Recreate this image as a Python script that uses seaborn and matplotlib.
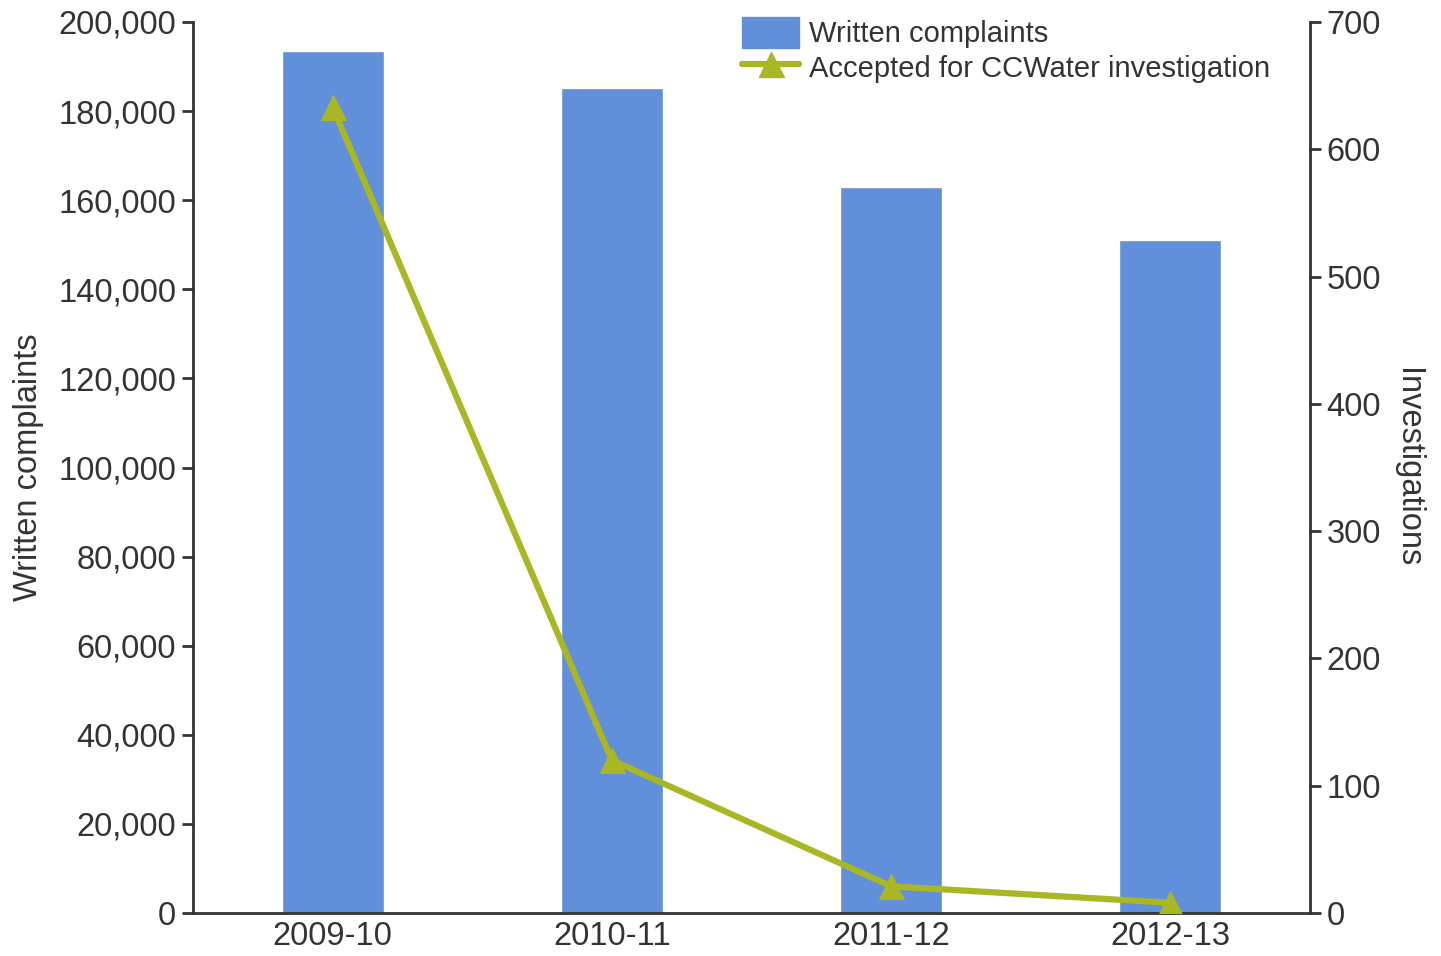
import matplotlib
matplotlib.use("Agg")
import matplotlib.pyplot as plt
import seaborn as sns
import pandas as pd
from matplotlib.ticker import FuncFormatter, MultipleLocator
from matplotlib.patches import Patch
from matplotlib.lines import Line2D

years = ["2009-10", "2010-11", "2011-12", "2012-13"]
written_complaints = [193500, 185200, 163000, 151100]
investigations = [633, 120, 21, 8]

bar_color = "#628fd9"
line_color = "#a9b725"
text_color = "#333333"

sns.set_theme(style="white")
plt.rcParams['font.family'] = ['Liberation Sans', 'DejaVu Sans']

df = pd.DataFrame({"year": years, "complaints": written_complaints, "inv": investigations})

fig = plt.figure(figsize=(14.41, 9.56), dpi=100)
ax = fig.add_axes([193/1441, 1 - 913/956, (1310-193)/1441, (913-22)/956])

sns.barplot(data=df, x="year", y="complaints", color=bar_color, saturation=1,
            width=0.365, ax=ax)
ax.set_xlim(-0.5, 3.5)
ax.set_ylim(0, 200000)
ax.yaxis.set_major_locator(MultipleLocator(20000))
ax.yaxis.set_major_formatter(FuncFormatter(lambda v, p: f"{int(v):,}"))
ax.set_xlabel("")
ax.set_ylabel("Written complaints", fontsize=23.5, color=text_color, labelpad=10)

ax2 = ax.twinx()
sns.lineplot(data=df, x="year", y="inv", color=line_color, lw=4.5, marker="^",
             markersize=18, markeredgecolor=line_color, ax=ax2, sort=False)
ax2.set_ylim(0, 700)
ax2.yaxis.set_major_locator(MultipleLocator(100))
ax2.set_ylabel("Investigations", fontsize=23.5, color=text_color, rotation=270, labelpad=30)
ax2.set_xlim(-0.5, 3.5)

for a in (ax, ax2):
    for s in a.spines.values():
        s.set_visible(False)
    a.tick_params(axis="both", labelsize=23.5, labelcolor=text_color, color=text_color)

ax.spines["left"].set_visible(True)
ax.spines["bottom"].set_visible(True)
ax2.spines["right"].set_visible(True)
for s in (ax.spines["left"], ax.spines["bottom"], ax2.spines["right"]):
    s.set_color(text_color)
    s.set_linewidth(2)

ax.tick_params(axis="y", direction="out", length=8, width=2, left=True, pad=4)
ax.tick_params(axis="x", length=0, pad=6)
ax2.tick_params(axis="y", direction="out", length=8, width=2, right=True, pad=4)

handles = [Patch(facecolor=bar_color, edgecolor=bar_color),
           Line2D([0], [0], color=line_color, lw=4.5, marker="^", markersize=18)]
labels = ["Written complaints", "Accepted for CCWater investigation"]
ax2.legend(handles, labels, loc="upper right", bbox_to_anchor=(1282/1441, 1 - 5/956),
           bbox_transform=fig.transFigure, frameon=False, fontsize=21,
           handlelength=1.95, handleheight=1.25, handletextpad=0.35, labelspacing=0.12,
           borderaxespad=0, labelcolor=text_color)

fig.savefig("out.png", dpi=100)
